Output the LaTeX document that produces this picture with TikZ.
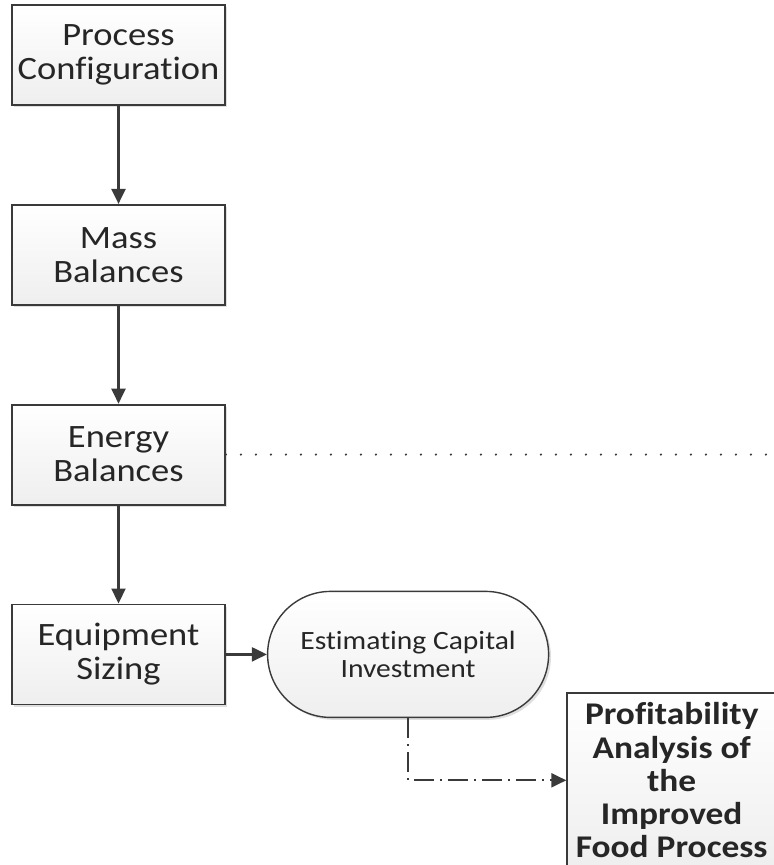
\documentclass[tikz,border=0pt]{standalone}
\usepackage{fontspec}
\setmainfont{Carlito}[FakeStretch=1.12, Ligatures=CommonOff]
\usetikzlibrary{positioning,shadows,arrows.meta,calc}

\definecolor{linegray}{HTML}{3A3A3A}
\definecolor{textgray}{HTML}{262626}

\tikzset{
  stepbox/.style={draw=linegray, line width=0.9pt, top color=white, bottom color=gray!13,
    drop shadow={shadow xshift=1.2pt, shadow yshift=-1.2pt, opacity=0.25},
    minimum width=106.5pt, minimum height=50pt, inner sep=0pt, align=center,
    text=textgray, font=\fontsize{16.3}{17}\selectfont},
  termbox/.style={stepbox, line width=0.7pt, rounded corners=31.5pt, minimum width=140.5pt, minimum height=63pt,
    font=\fontsize{13.2}{14}\selectfont},
  flow/.style={draw=linegray, line width=1.1pt, -{Triangle[length=7.5pt,width=7pt]}},
  dotline/.style={draw=linegray, line width=1.2pt, line cap=round, dash pattern=on 0pt off 7.5pt},
  dashdotline/.style={flow, dash pattern=on 10pt off 3pt on 1pt off 3pt}
}

\begin{document}
\begin{tikzpicture}[node distance=49pt]
  \useasboundingbox (0,0) rectangle (386.5pt,-432.5pt);
  \coordinate (rightedge) at (386.5pt,0);

  % main chain
  \node [stepbox] (pc) at (59.25pt,-27.5pt) {Process\\Configuration};
  \node [stepbox, below=of pc] (mb) {Mass\\Balances};
  \node [stepbox, below=of mb] (eb) {Energy\\Balances};
  \node [stepbox, below=of eb] (es) {Equipment\\Sizing};

  % side branch
  \node [termbox, right=20.5pt of es] (eci) {Estimating Capital\\Investment};
  \node [stepbox, minimum width=104.5pt, minimum height=87pt, font=\bfseries\fontsize{15.8}{16.6}\selectfont,
    below right=19pt and 8.5pt of eci.east] (pa) {Profitability\\Analysis of\\the\\Improved\\Food Process};

  \draw [flow] (pc) -- (mb);
  \draw [flow] (mb) -- (eb);
  \draw [flow] (eb) -- (es);
  \draw [flow] (es) -- (eci);
  \draw [dashdotline] (eci.south) |- (pa.west);
  \draw [dotline] (eb.east) -- (eb.east -| rightedge);
\end{tikzpicture}
\end{document}
